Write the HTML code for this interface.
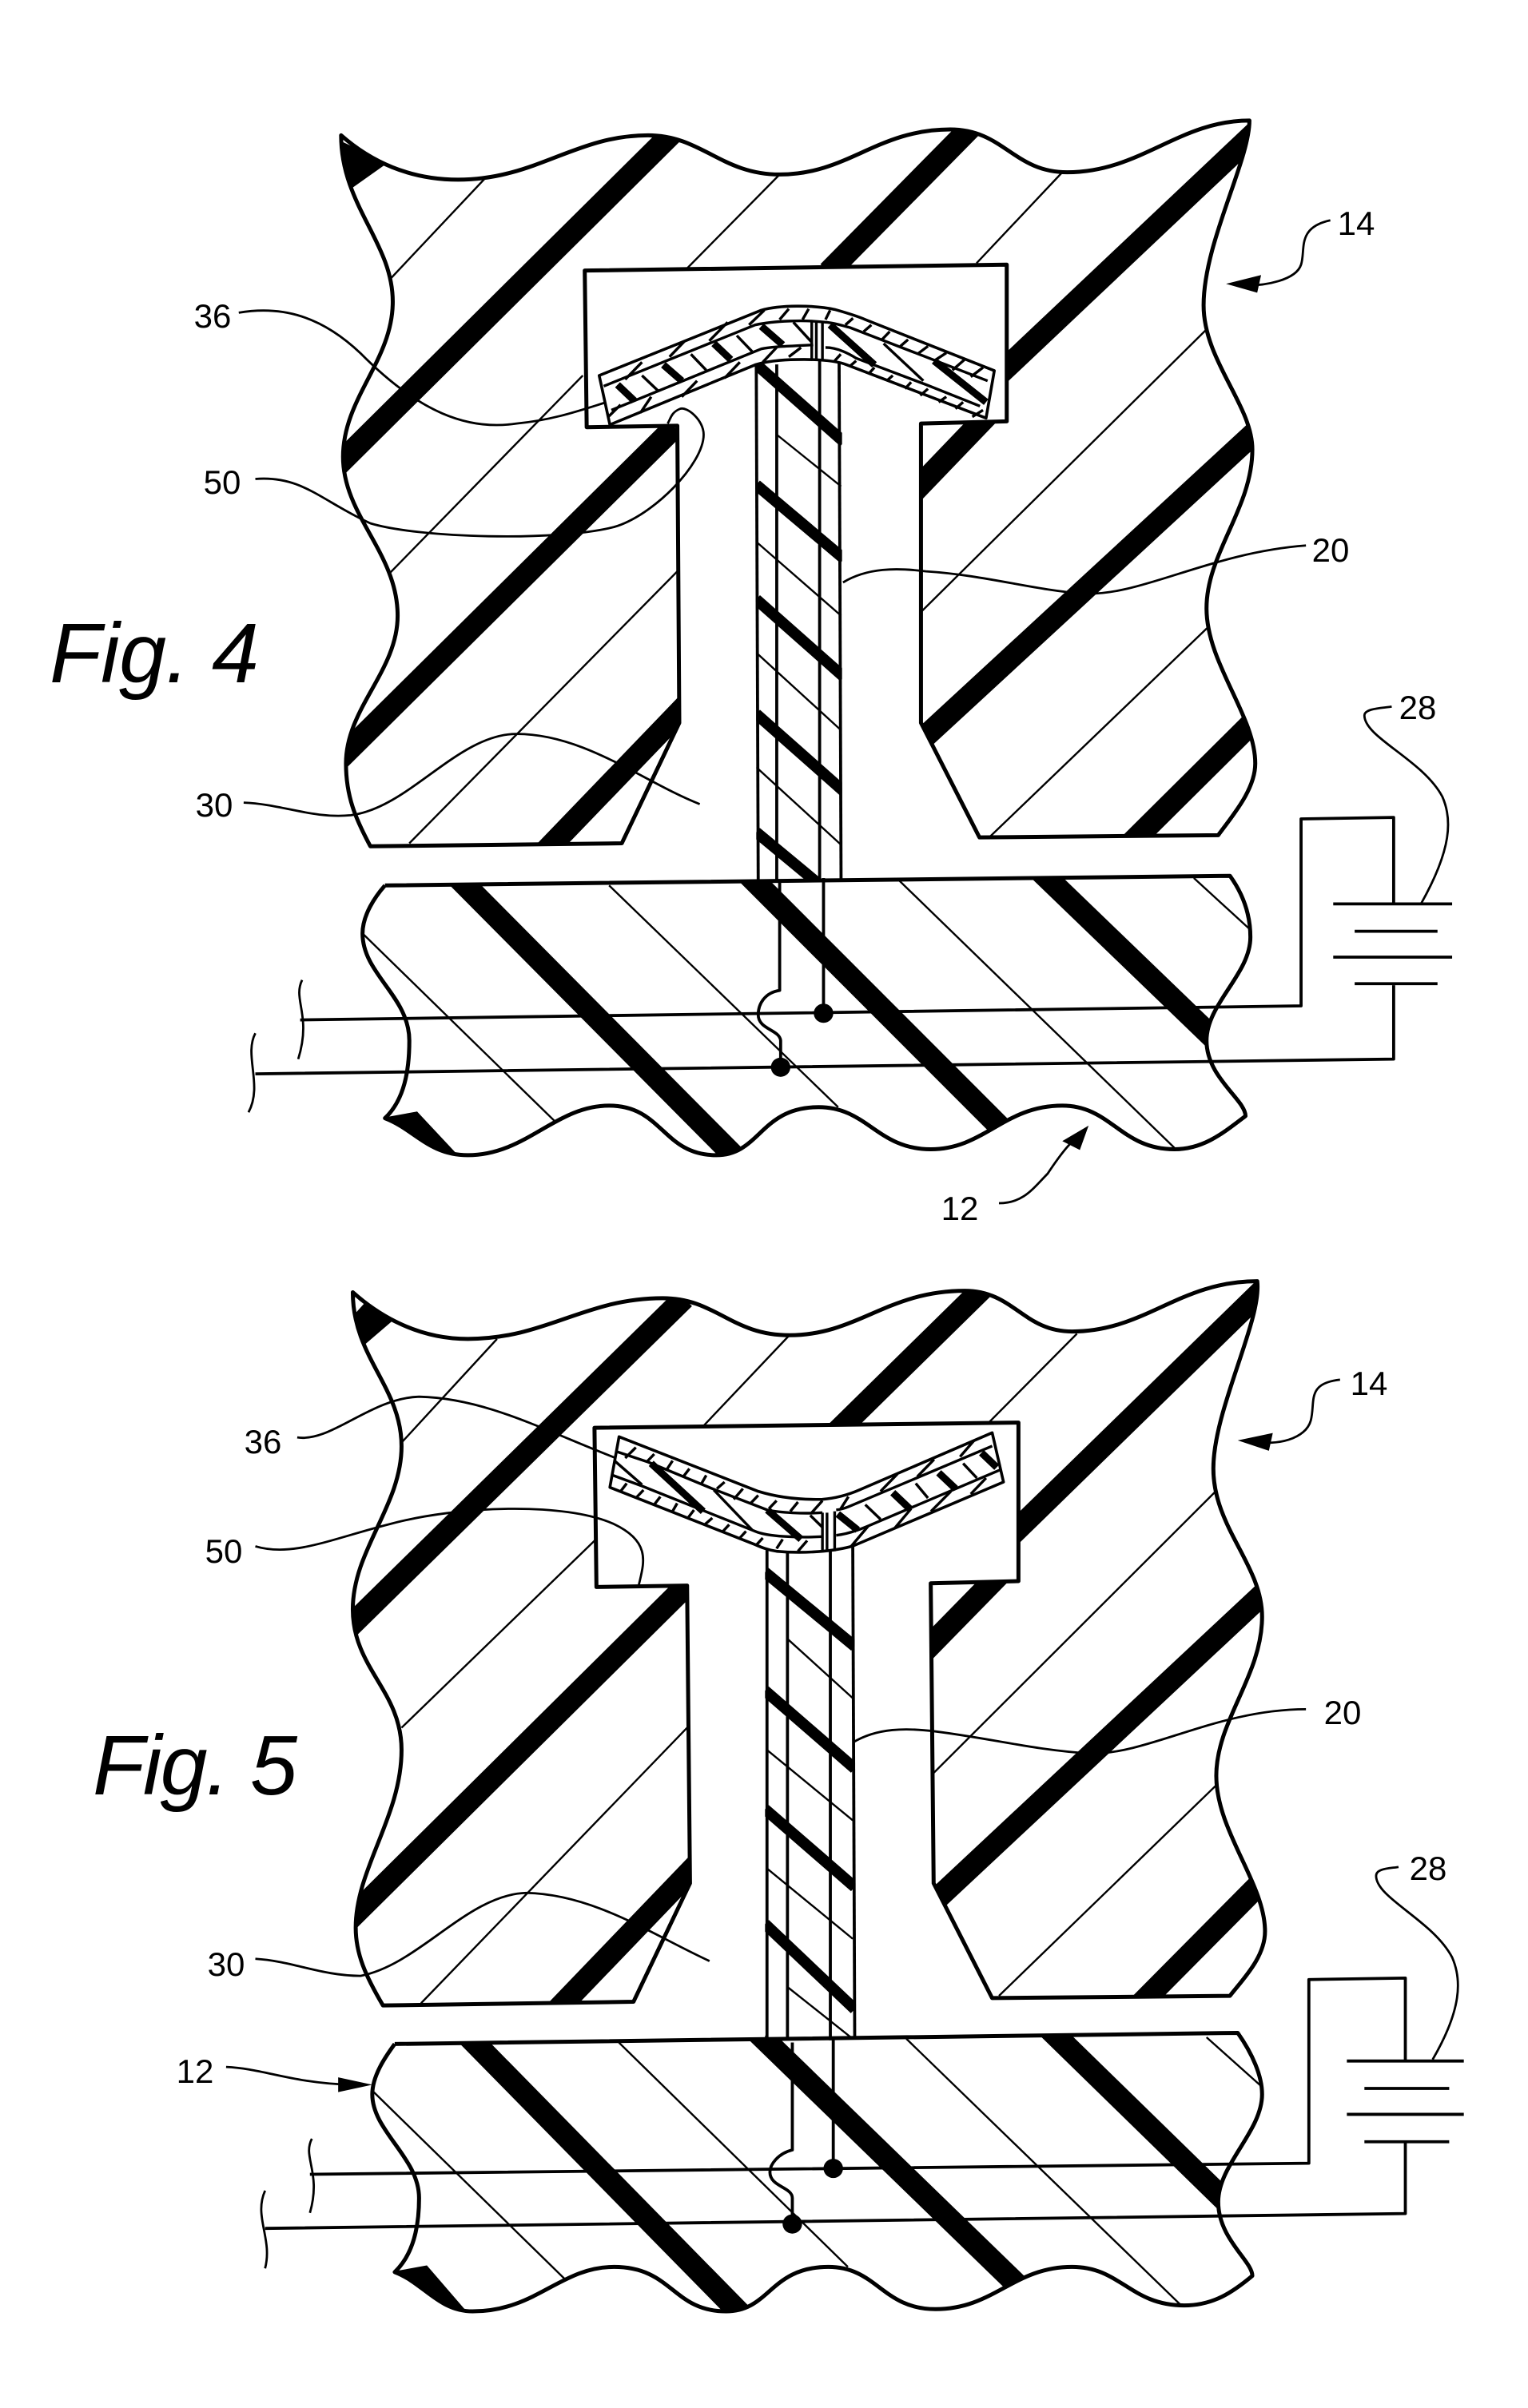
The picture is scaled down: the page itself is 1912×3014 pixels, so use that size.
<!DOCTYPE html>
<html><head><meta charset="utf-8"><style>
html,body{margin:0;padding:0;background:#fff}
svg{display:block}
svg *{vector-effect:non-scaling-stroke}
path,line,polyline{fill:none;stroke:#000;stroke-linejoin:round}
.o{stroke-width:5}
.t{stroke-width:2.4}
.b{stroke-width:28}
.s{stroke-width:14}
.l{stroke-width:2.8}
.w{stroke-width:3.8}
.m{stroke-width:3.6;fill:#fff}
.k{stroke-width:3.4}
.h{stroke-width:9}
.f{fill:#000;stroke:none}
.n{font-family:"Liberation Sans",sans-serif;font-size:42px;text-anchor:middle;fill:#000}
.g{font-family:"Liberation Sans",sans-serif;font-style:italic;font-size:106px;fill:#000}
</style></head><body>
<svg xmlns="http://www.w3.org/2000/svg" width="1912" height="3014" viewBox="0 0 1912 3014">
<rect width="1912" height="3014" fill="#fff"/>
<defs>
<clipPath id="a1"><path d="M380 1037C365 1000 355 970 355 925C355 850 408 800 408 725C408 640 352 590 352 510C352 430 403 380 403 300C403 220 350 170 350 75C380 110 420 135 470 135C550 135 590 75 665 75C720 75 740 128 800 128C870 128 900 67 975 67C1030 67 1040 125 1095 125C1170 125 1210 55 1282 55C1282 110 1235 220 1235 305C1235 380 1285 440 1285 500C1285 580 1238 640 1238 715C1238 790 1288 860 1288 925C1288 960 1265 995 1250 1022L1005 1025L945 870L945 465L1033 462L1033 250L600 258L602 470L695 468L697 870L638 1033Z"/></clipPath>
<clipPath id="a2"><path d="M395 1090L1262 1077C1280 1110 1283 1140 1283 1160C1283 1210 1238 1250 1238 1300C1238 1350 1278 1380 1278 1402C1255 1425 1235 1447 1205 1447C1150 1447 1140 1388 1090 1388C1030 1388 1010 1447 955 1447C900 1447 890 1390 840 1390C780 1390 780 1455 735 1455C680 1455 680 1388 625 1388C570 1388 540 1455 480 1455C440 1455 425 1420 395 1405C415 1380 420 1340 420 1300C420 1240 372 1210 372 1155C372 1130 385 1105 395 1090Z"/></clipPath>
<clipPath id="a3"><rect x="776" y="370" width="88" height="715"/></clipPath>
<clipPath id="c1"><path d="M393 1025C375 985 365 955 365 920C365 840 412 770 412 680C412 600 362 570 362 490C362 410 412 350 412 270C412 190 362 150 362 62C390 95 430 125 480 125C560 125 600 70 680 70C735 70 750 120 810 120C880 120 910 60 990 60C1040 60 1050 115 1100 115C1175 115 1210 47 1290 47C1295 100 1245 220 1245 300C1245 380 1295 430 1295 500C1295 580 1248 640 1248 715C1248 790 1298 860 1298 925C1298 960 1275 990 1262 1012L1018 1015L958 860L955 455L1045 452L1045 238L610 245L612 460L705 458L708 860L650 1020Z"/></clipPath>
<clipPath id="c2"><path d="M405 1077L1270 1062C1285 1090 1295 1120 1295 1145C1295 1195 1250 1240 1250 1290C1250 1340 1285 1370 1285 1390C1265 1412 1245 1430 1215 1430C1160 1430 1150 1378 1100 1378C1040 1378 1020 1435 960 1435C905 1435 900 1378 850 1378C790 1378 790 1438 745 1438C690 1438 690 1378 630 1378C575 1378 550 1438 485 1438C450 1438 435 1400 405 1385C425 1360 430 1320 430 1285C430 1230 382 1195 382 1145C382 1120 395 1095 405 1077Z"/></clipPath>
<clipPath id="c3"><rect x="785" y="395" width="92" height="680"/></clipPath>
</defs>

<!-- FIG 4 -->
<g transform="translate(0,100) scale(1.2195,0.925)">
<g clip-path="url(#a1)">
<polygon class="f" points="345,80 398,112 352,155 345,155"/>
<line class="b" x1="690" y1="72" x2="340" y2="530"/>
<line class="b" x1="998" y1="62" x2="850" y2="260"/>
<line class="b" x1="1300" y1="56" x2="1020" y2="405"/>
<line class="b" x1="1016" y1="450" x2="925" y2="575"/>
<line class="b" x1="692" y1="470" x2="340" y2="930"/>
<line class="b" x1="712" y1="835" x2="555" y2="1050"/>
<line class="b" x1="1300" y1="462" x2="940" y2="900"/>
<line class="b" x1="1300" y1="850" x2="1155" y2="1040"/>
<line class="t" x1="500" y1="130" x2="400" y2="270"/>
<line class="t" x1="800" y1="128" x2="705" y2="255"/>
<line class="t" x1="1090" y1="125" x2="1002" y2="248"/>
<line class="t" x1="598" y1="400" x2="398" y2="670"/>
<line class="t" x1="695" y1="665" x2="420" y2="1033"/>
<line class="t" x1="1240" y1="335" x2="945" y2="720"/>
<line class="t" x1="1240" y1="740" x2="1015" y2="1025"/>
</g>
<path class="o" d="M380 1037C365 1000 355 970 355 925C355 850 408 800 408 725C408 640 352 590 352 510C352 430 403 380 403 300C403 220 350 170 350 75C380 110 420 135 470 135C550 135 590 75 665 75C720 75 740 128 800 128C870 128 900 67 975 67C1030 67 1040 125 1095 125C1170 125 1210 55 1282 55C1282 110 1235 220 1235 305C1235 380 1285 440 1285 500C1285 580 1238 640 1238 715C1238 790 1288 860 1288 925C1288 960 1265 995 1250 1022L1005 1025L945 870L945 465L1033 462L1033 250L600 258L602 470L695 468L697 870L638 1033Z"/>
<g clip-path="url(#a2)">
<line class="b" x1="465" y1="1073" x2="760" y2="1465"/>
<line class="b" x1="762" y1="1068" x2="1040" y2="1435"/>
<line class="b" x1="1062" y1="1064" x2="1250" y2="1303"/>
<polygon class="f" points="390,1405 428,1396 472,1458 440,1440"/>
<line class="t" x1="625" y1="1090" x2="860" y2="1390"/>
<line class="t" x1="920" y1="1080" x2="1205" y2="1445"/>
<line class="t" x1="1225" y1="1080" x2="1283" y2="1150"/>
<line class="t" x1="372" y1="1155" x2="570" y2="1410"/>
</g>
<path class="o" d="M395 1090L1262 1077C1280 1110 1283 1140 1283 1160C1283 1210 1238 1250 1238 1300C1238 1350 1278 1380 1278 1402C1255 1425 1235 1447 1205 1447C1150 1447 1140 1388 1090 1388C1030 1388 1010 1447 955 1447C900 1447 890 1390 840 1390C780 1390 780 1455 735 1455C680 1455 680 1388 625 1388C570 1388 540 1455 480 1455C440 1455 425 1420 395 1405C415 1380 420 1340 420 1300C420 1240 372 1210 372 1155C372 1130 385 1105 395 1090"/>
<!-- stem -->
<g clip-path="url(#a3)">
<line class="s" x1="776" y1="385" x2="866" y2="490"/>
<line class="s" x1="776" y1="548" x2="866" y2="648"/>
<line class="s" x1="776" y1="703" x2="866" y2="808"/>
<line class="s" x1="776" y1="858" x2="866" y2="963"/>
<line class="s" x1="776" y1="1018" x2="840" y2="1088"/>
<line class="t" x1="797" y1="480" x2="863" y2="550"/>
<line class="t" x1="776" y1="625" x2="863" y2="725"/>
<line class="t" x1="776" y1="775" x2="863" y2="880"/>
<line class="t" x1="776" y1="930" x2="863" y2="1035"/>
</g>
<line class="w" x1="776" y1="385" x2="778" y2="1085"/>
<line class="w" x1="797" y1="385" x2="797" y2="1085"/>
<line class="w" x1="841" y1="370" x2="841" y2="1085"/>
<line class="w" x1="861" y1="380" x2="863" y2="1083"/>
<!-- wires -->
<path class="w" d="M800 1085V1232C785 1235 778 1250 778 1265C778 1285 800 1285 801 1300V1340"/>
<path class="w" d="M845 1080V1262"/>
<path class="w" d="M308 1272L1335 1253V1000L1430 998V1115"/>
<path class="w" d="M262 1345L1430 1325V1225"/>
<ellipse class="f" cx="845" cy="1263" rx="10" ry="13"/>
<ellipse class="f" cx="801" cy="1336" rx="10" ry="13"/>
<path class="w" d="M1368 1115H1490M1390 1152H1475M1368 1187H1490M1390 1223H1475"/>
<path class="l" d="M310 1218C300 1245 320 1265 306 1325M262 1290C250 1320 270 1360 255 1397"/>
<!-- leaders -->
<path class="l" d="M245 315C290 305 330 320 370 370C430 450 480 475 530 465C570 460 600 445 625 435"/>
<path class="l" d="M262 540C310 535 330 570 380 600C430 620 570 625 630 605C670 590 722 520 722 480C722 460 705 442 698 445C688 450 688 460 685 465"/>
<path class="l" d="M865 680C890 660 920 660 950 665C1010 670 1060 690 1110 695C1170 700 1240 640 1340 630"/>
<path class="l" d="M250 978C290 980 320 1000 360 995C420 985 470 885 530 885C600 885 660 950 718 980"/>
<path class="l" d="M1458 1115C1490 1040 1490 1000 1480 970C1460 920 1400 890 1400 860C1400 850 1420 850 1428 848"/>
<path class="l" d="M1270 278C1300 280 1330 270 1335 250C1340 230 1330 200 1365 190"/>
<polygon class="f" points="1258,276 1294,264 1290,288"/>
<path class="l" d="M1025 1520C1050 1520 1060 1500 1075 1480C1090 1450 1100 1435 1110 1425"/>
<polygon class="f" points="1117,1415 1108,1448 1090,1436"/>
</g>

<!-- Fig 4 membrane -->
<g transform="translate(700,300) scale(0.3827,0.3333)">
<path class="m" d="M130 510L660 265C720 245 830 245 900 262C940 275 970 285 1000 300L1422 492L1395 670L940 470C900 452 830 450 800 450C750 450 690 452 640 470L165 695Z"/>
<path class="k" d="M145 550L640 320C700 305 800 300 870 310C900 312 930 325 950 330L1400 530"/>
<path class="k" d="M170 640L660 410C700 400 760 400 830 395"/>
<path class="k" d="M870 405C910 405 950 430 970 445L1200 545L1375 625"/>
<path class="h" d="M190 545L245 605M340 470L400 530M505 390L560 450M660 325L730 395"/>
<path class="k" d="M270 510L325 570M430 430L480 490M580 360L630 420M765 310L825 385"/>
<path class="k" d="M270 460L215 525M410 380L360 440M550 310L490 380M670 265L620 320M750 260L720 300M815 260L795 300M885 265L870 300"/>
<path class="k" d="M300 590L265 650M450 530L400 590M590 460L540 520M710 405L665 460M790 405L750 440M200 620L160 665"/>
<path class="k" d="M960 295L935 320M1020 320L995 345M1080 345L1055 375M1140 375L1115 400M1205 400L1170 430M1265 425L1225 455M1325 450L1285 490M1385 480L1345 515"/>
<path class="k" d="M920 430L900 455M970 455L950 475M1030 480L1010 505M1090 510L1070 530M1150 535L1130 560M1205 560L1180 585M1265 590L1240 610M1320 610L1295 635M1385 640L1350 665"/>
<path class="h" d="M885 320L1030 470M1225 455L1395 610"/>
<path class="k" d="M1060 390L1190 530"/>
<path class="k" d="M825 310V450M840 310V450M860 310V450"/>
</g>

<!-- FIG 5 -->
<g transform="translate(0,1560) scale(1.2195,0.927)">
<g clip-path="url(#c1)">
<polygon class="f" points="358,100 380,68 405,98 366,142 358,142"/>
<line class="b" x1="702" y1="70" x2="350" y2="525"/>
<line class="b" x1="1012" y1="52" x2="855" y2="255"/>
<line class="b" x1="1305" y1="47" x2="1030" y2="400"/>
<line class="b" x1="1028" y1="440" x2="935" y2="565"/>
<line class="b" x1="705" y1="457" x2="350" y2="920"/>
<line class="b" x1="722" y1="825" x2="565" y2="1040"/>
<line class="b" x1="1310" y1="452" x2="950" y2="895"/>
<line class="b" x1="1312" y1="835" x2="1165" y2="1030"/>
<line class="t" x1="510" y1="125" x2="412" y2="265"/>
<line class="t" x1="810" y1="120" x2="720" y2="245"/>
<line class="t" x1="1105" y1="118" x2="1013" y2="240"/>
<line class="t" x1="612" y1="395" x2="412" y2="650"/>
<line class="t" x1="705" y1="650" x2="432" y2="1022"/>
<line class="t" x1="1248" y1="330" x2="955" y2="715"/>
<line class="t" x1="1250" y1="725" x2="1025" y2="1012"/>
</g>
<path class="o" d="M393 1025C375 985 365 955 365 920C365 840 412 770 412 680C412 600 362 570 362 490C362 410 412 350 412 270C412 190 362 150 362 62C390 95 430 125 480 125C560 125 600 70 680 70C735 70 750 120 810 120C880 120 910 60 990 60C1040 60 1050 115 1100 115C1175 115 1210 47 1290 47C1295 100 1245 220 1245 300C1245 380 1295 430 1295 500C1295 580 1248 640 1248 715C1248 790 1298 860 1298 925C1298 960 1275 990 1262 1012L1018 1015L958 860L955 455L1045 452L1045 238L610 245L612 460L705 458L708 860L650 1020Z"/>
<g clip-path="url(#c2)">
<line class="b" x1="474" y1="1058" x2="768" y2="1452"/>
<line class="b" x1="772" y1="1055" x2="1050" y2="1410"/>
<line class="b" x1="1072" y1="1051" x2="1262" y2="1295"/>
<polygon class="f" points="400,1385 438,1376 480,1440 450,1422"/>
<line class="t" x1="635" y1="1075" x2="870" y2="1378"/>
<line class="t" x1="930" y1="1070" x2="1212" y2="1430"/>
<line class="t" x1="1238" y1="1068" x2="1295" y2="1135"/>
<line class="t" x1="382" y1="1140" x2="580" y2="1395"/>
</g>
<path class="o" d="M405 1077L1270 1062C1285 1090 1295 1120 1295 1145C1295 1195 1250 1240 1250 1290C1250 1340 1285 1370 1285 1390C1265 1412 1245 1430 1215 1430C1160 1430 1150 1378 1100 1378C1040 1378 1020 1435 960 1435C905 1435 900 1378 850 1378C790 1378 790 1438 745 1438C690 1438 690 1378 630 1378C575 1378 550 1438 485 1438C450 1438 435 1400 405 1385C425 1360 430 1320 430 1285C430 1230 382 1195 382 1145C382 1120 395 1095 405 1077"/>
<g clip-path="url(#c3)">
<line class="s" x1="785" y1="440" x2="877" y2="540"/>
<line class="s" x1="785" y1="600" x2="877" y2="705"/>
<line class="s" x1="785" y1="760" x2="877" y2="865"/>
<line class="s" x1="785" y1="915" x2="877" y2="1030"/>
<line class="s" x1="770" y1="1060" x2="790" y2="1080"/>
<line class="t" x1="808" y1="530" x2="875" y2="610"/>
<line class="t" x1="787" y1="680" x2="875" y2="775"/>
<line class="t" x1="787" y1="840" x2="875" y2="935"/>
<line class="t" x1="808" y1="1000" x2="875" y2="1070"/>
</g>
<line class="w" x1="787" y1="410" x2="787" y2="1072"/>
<line class="w" x1="808" y1="410" x2="808" y2="1072"/>
<line class="w" x1="852" y1="400" x2="852" y2="1072"/>
<line class="w" x1="875" y1="400" x2="877" y2="1068"/>
<path class="w" d="M813 1075V1220C798 1225 790 1240 790 1250C790 1270 813 1270 813 1285V1320"/>
<path class="w" d="M855 1070V1245"/>
<path class="w" d="M318 1253L1343 1238V990L1442 988V1100"/>
<path class="w" d="M272 1326L1442 1306V1210"/>
<ellipse class="f" cx="855" cy="1245" rx="10" ry="13"/>
<ellipse class="f" cx="813" cy="1320" rx="10" ry="13"/>
<path class="w" d="M1382 1100H1502M1400 1137H1487M1382 1172H1502M1400 1209H1487"/>
<path class="l" d="M320 1205C310 1230 330 1250 318 1305M272 1275C260 1310 280 1340 272 1380"/>
<path class="l" d="M305 258C340 265 380 205 430 203C500 205 560 250 640 290"/>
<path class="l" d="M262 405C300 420 340 395 400 375C470 350 580 345 630 375C670 400 660 430 655 460"/>
<path class="l" d="M875 670C900 650 930 650 960 655C1020 665 1060 680 1120 685C1180 685 1250 625 1340 625"/>
<path class="l" d="M262 962C300 965 330 985 370 985C430 970 480 875 540 873C610 875 670 930 728 965"/>
<path class="l" d="M1470 1098C1500 1030 1500 990 1490 960C1470 910 1412 880 1412 850C1412 840 1425 840 1435 838"/>
<path class="l" d="M1285 263C1310 270 1340 260 1345 235C1350 210 1340 185 1375 180"/>
<polygon class="f" points="1270,262 1306,252 1302,276"/>
<path class="l" d="M232 1108C270 1110 300 1130 360 1132"/>
<polygon class="f" points="382,1132 347,1142 347,1122"/>
</g>

<!-- Fig 5 membrane -->
<g transform="translate(700,1760) scale(0.3827,0.3333)">
<path class="m" d="M195 115L650 320C720 345 790 352 860 350C910 345 950 330 980 315L1415 100L1452 285L960 525C900 545 800 555 710 545C680 540 660 530 640 520L165 305Z"/>
<path class="k" d="M185 170L290 210L500 310L680 390C720 400 800 405 860 400"/>
<path class="k" d="M905 390C920 388 930 385 945 378L1415 150"/>
<path class="k" d="M175 260L270 300L640 470C680 490 780 495 860 490"/>
<path class="k" d="M905 485C950 480 1000 455 1030 440L1440 240"/>
<path class="k" d="M250 155L215 195M310 180L285 210M370 205L350 240M425 235L405 265M480 260L465 290M540 285L515 310M600 310L570 350M650 335L625 365M710 355L685 385M780 360L755 395M860 355L825 400"/>
<path class="k" d="M220 290L200 320M275 315L250 345M330 340L310 370M385 365L370 395M440 390L420 420M500 420L475 445M555 445L535 470M610 470L590 495M665 495L645 520M730 500L710 535M810 505L780 545"/>
<path class="h" d="M300 215L470 395M680 390L790 500"/>
<path class="k" d="M180 205L270 295M505 315L630 465M820 410L860 455"/>
<path class="h" d="M910 405L975 465M1090 325L1145 385M1240 250L1295 310M1380 175L1430 230"/>
<path class="k" d="M1000 370L1050 425M1165 290L1205 345M1320 215L1365 270"/>
<path class="k" d="M1225 200L1170 265M1355 130L1310 190M1105 255L1050 320M945 340L920 385"/>
<path class="k" d="M1395 270L1345 330M1280 320L1215 395M1150 385L1095 460M1010 450L955 525"/>
<path class="k" d="M860 400V545M875 400V545M900 395V545"/>
</g>

<!-- labels -->
<text class="n" x="266" y="410">36</text>
<text class="n" x="278" y="618">50</text>
<text class="n" x="1665" y="703">20</text>
<text class="n" x="268" y="1022">30</text>
<text class="n" x="1774" y="900">28</text>
<text class="n" x="1697" y="294">14</text>
<text class="n" x="1201" y="1527">12</text>
<text class="n" x="329" y="1819">36</text>
<text class="n" x="280" y="1956">50</text>
<text class="n" x="1680" y="2158">20</text>
<text class="n" x="283" y="2473">30</text>
<text class="n" x="1787" y="2353">28</text>
<text class="n" x="1713" y="1746">14</text>
<text class="n" x="244" y="2607">12</text>
<text class="g" x="62" y="854" textLength="262" lengthAdjust="spacing">Fig. 4</text>
<text class="g" x="116" y="2246" textLength="256" lengthAdjust="spacing">Fig. 5</text>
</svg>
</body></html>
